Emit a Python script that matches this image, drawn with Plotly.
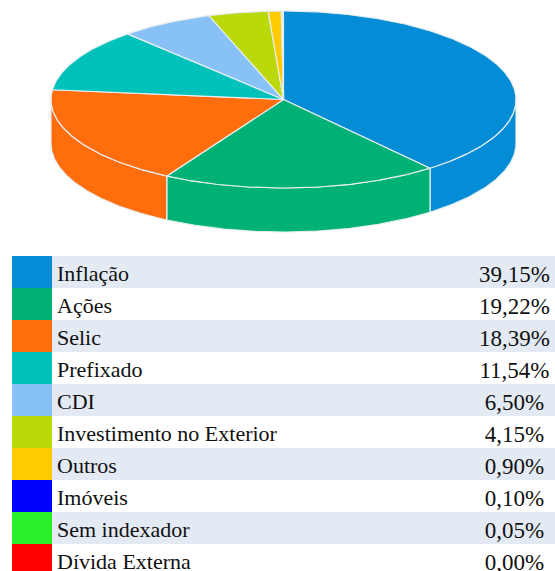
import numpy as np
import plotly.graph_objects as go

# Data
categories = ["Inflação", "Ações", "Selic", "Prefixado", "CDI",
              "Investimento no Exterior", "Outros", "Imóveis",
              "Sem indexador", "Dívida Externa"]
values = [39.15, 19.22, 18.39, 11.54, 6.50, 4.15, 0.90, 0.10, 0.05, 0.00]
value_labels = ["39,15%", "19,22%", "18,39%", "11,54%", "6,50%",
                "4,15%", "0,90%", "0,10%", "0,05%", "0,00%"]
colors = ["#058CD6", "#00B176", "#FF6D0D", "#00C2BB", "#88C1F6",
          "#BBD80B", "#FFCB00", "#0000FF", "#29EE29", "#FF0000"]

W, H = 555, 571
CX, CY, RX, RY, DEPTH_PX = 283.5, 99.5, 232.5, 88.5, 44
TABLE_TOP = 256
ROW_H = 32
EDGE = "#E6EEF0"
BAND = "#E3EAF3"
FONT = "Liberation Serif"
TEXT = "#111111"

fig = go.Figure()

total = sum(values)
edges = np.cumsum([0] + values) / total * 2 * np.pi
depth = DEPTH_PX / RY


def arc(a, b):
    n = max(2, int(np.degrees(b - a) * 2) + 2)
    t = np.linspace(a, b, n)
    return np.sin(t), np.cos(t)


# Side walls (only the front half, angles 90..270 degrees clockwise from top)
for i, v in enumerate(values):
    a, b = max(edges[i], np.pi / 2), min(edges[i + 1], 3 * np.pi / 2)
    if b <= a:
        continue
    x, y = arc(a, b)
    fig.add_trace(go.Scatter(
        x=np.r_[x, x[::-1], x[0]], y=np.r_[y, y[::-1] - depth, y[0]],
        mode="lines", fill="toself", fillcolor=colors[i],
        line=dict(color=EDGE, width=1.2), hoverinfo="skip",
        xaxis="x", yaxis="y", showlegend=False))

# Top face
for i, v in enumerate(values):
    if v <= 0:
        continue
    x, y = arc(edges[i], edges[i + 1])
    fig.add_trace(go.Scatter(
        x=np.r_[0, x, 0], y=np.r_[0, y, 0],
        mode="lines", fill="toself", fillcolor=colors[i],
        line=dict(color=EDGE, width=1.2), hoverinfo="skip",
        xaxis="x", yaxis="y", showlegend=False))

rows = list(range(len(categories)))
# Alternating bands
band_rows = [r for r in rows if r % 2 == 0]
fig.add_trace(go.Bar(
    y=band_rows, x=[W - 12] * len(band_rows), base=12, orientation="h", width=1,
    marker=dict(color=BAND, line=dict(width=0)), hoverinfo="skip",
    xaxis="x2", yaxis="y2", showlegend=False))
# Swatches
fig.add_trace(go.Bar(
    y=rows, x=[40] * len(rows), base=12, orientation="h", width=1,
    marker=dict(color=colors, line=dict(width=0)), hoverinfo="skip",
    xaxis="x2", yaxis="y2", showlegend=False))
# Labels
fig.add_trace(go.Scatter(
    x=[57] * len(rows), y=[r + 0.12 for r in rows], text=categories,
    mode="text", textposition="middle right", cliponaxis=False,
    textfont=dict(family=FONT, size=22, color=TEXT), hoverinfo="skip",
    xaxis="x2", yaxis="y2", showlegend=False))
fig.add_trace(go.Scatter(
    x=[514.5] * len(rows), y=[r + 0.12 for r in rows], text=value_labels,
    mode="text", textposition="middle center", cliponaxis=False,
    textfont=dict(family=FONT, size=23, color=TEXT), hoverinfo="skip",
    xaxis="x2", yaxis="y2", showlegend=False))

hidden = dict(visible=False, fixedrange=True)
fig.update_layout(
    width=W, height=H, autosize=False,
    margin=dict(l=0, r=0, t=0, b=0),
    paper_bgcolor="white", plot_bgcolor="white",
    barmode="overlay", bargap=0,
    xaxis=dict(domain=[0, 1], range=[-CX / RX, (W - CX) / RX], **hidden),
    yaxis=dict(domain=[1 - TABLE_TOP / H, 1],
               range=[(CY - TABLE_TOP) / RY, CY / RY], **hidden),
    xaxis2=dict(domain=[0, 1], range=[0, W], anchor="y2", **hidden),
    yaxis2=dict(domain=[0, 1 - TABLE_TOP / H], anchor="x2",
                range=[(H - TABLE_TOP) / ROW_H - 0.5, -0.5], **hidden),
)

fig.write_html("out.html", config=dict(displayModeBar=False),
               post_script="document.body.style.margin='0';document.documentElement.style.overflow='hidden';")
